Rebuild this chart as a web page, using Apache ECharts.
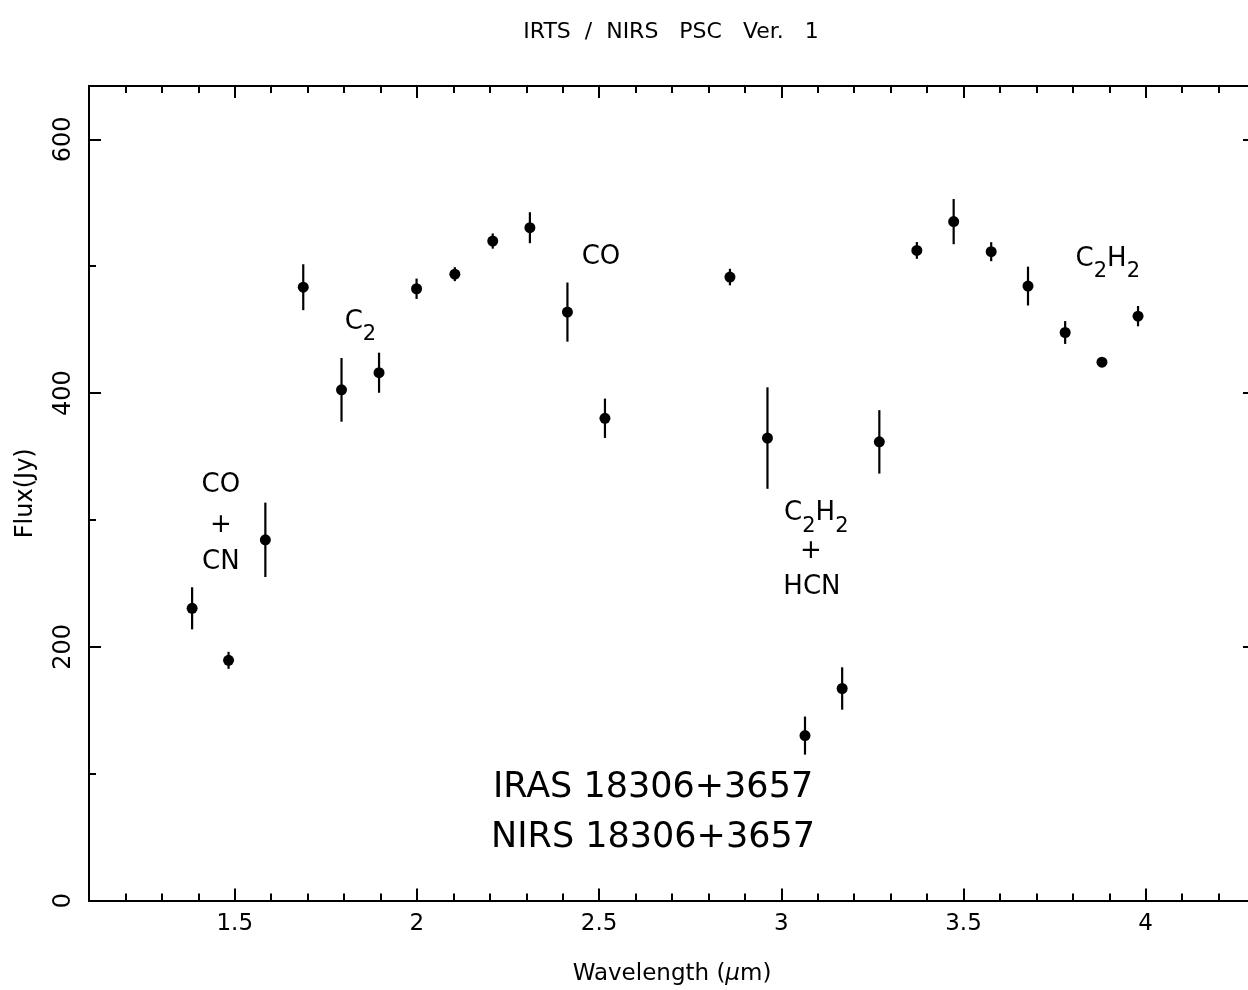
<!DOCTYPE html>
<html>
<head>
<meta charset="utf-8">
<script src="https://cdn.jsdelivr.net/npm/echarts@6/dist/echarts.min.js"></script>
<style>
html,body{margin:0;padding:0;background:#ffffff;}
#chart{width:1248px;height:990px;}
</style>
</head>
<body>
<div id="chart"></div>
<script>
// ---- data ----
const wavelength = [1.383, 1.483, 1.584, 1.688, 1.793, 1.896, 1.999, 2.104, 2.208, 2.310, 2.413, 2.516,
                    2.859, 2.962, 3.065, 3.167, 3.269, 3.372, 3.473, 3.576, 3.677, 3.779, 3.880, 3.979];
const flux       = [230.3, 189.3, 284.3, 483.4, 402.5, 416.0, 482.2, 493.7, 519.8, 530.3, 463.8, 380.1,
                    491.4, 364.5, 130.0, 167.1, 361.5, 512.4, 535.1, 511.4, 484.3, 447.7, 424.3, 460.6];
const fluxError  = [16.6, 6.7, 29.3, 18.1, 25.1, 15.8, 8.0, 5.5, 6.0, 12.2, 23.3, 15.5,
                    6.5, 40.0, 15.0, 16.7, 25.0, 6.6, 17.8, 7.5, 15.3, 9.0, 3.0, 8.0];

const xMajorTicks = [1.5, 2, 2.5, 3, 3.5, 4];
const xMinorTicks = [1.2, 1.3, 1.4, 1.6, 1.7, 1.8, 1.9, 2.1, 2.2, 2.3, 2.4, 2.6, 2.7, 2.8, 2.9,
                     3.1, 3.2, 3.3, 3.4, 3.6, 3.7, 3.8, 3.9, 4.1, 4.2];
const yMajorTicks = [0, 200, 400, 600];
const yMinorTicks = [100, 300, 500];

// annotation texts, positioned in data units (wavelength, flux)
const annotationText = ['CO', '+', 'CN', '{n|C}{s|2}', 'CO', '{n|C}{s|2}{n|H}{s|2}', '+', 'HCN', '{n|C}{s|2}{n|H}{s|2}',
                        'IRAS 18306+3657', 'NIRS 18306+3657'];
const annotationX    = [1.462, 1.462, 1.462, 1.845, 2.505, 3.096, 3.081, 3.084, 3.896, 2.648, 2.648];
const annotationY    = [327, 296, 267, 452, 507, 301, 275, 247, 501.5, 89, 49];
const annotationSize = [26, 26, 26, 26, 26, 26, 26, 26, 26, 35, 35];

const FONT = 'DejaVu Sans';
const X_MIN = 1.1, X_MAX = 4.3, Y_MIN = 0, Y_MAX = 642;

function fmt(v) { return String(+v.toFixed(2)); }

function xAxisDef(grid, pos, ticks, len, withLabel) {
  const ax = {
    type: 'value', gridIndex: grid, position: pos, min: X_MIN, max: X_MAX,
    axisLine: { show: true, onZero: false, lineStyle: { color: '#000', width: 2 } },
    axisTick: { show: true, inside: true, length: len, customValues: ticks, lineStyle: { color: '#000', width: 2 } },
    axisLabel: { show: withLabel, customValues: ticks, formatter: fmt, color: '#000', fontFamily: FONT, fontSize: 23, margin: 12 },
    splitLine: { show: false }, minorTick: { show: false }
  };
  if (withLabel) {
    ax.name = 'Wavelength ({i|μ}m)';
    ax.nameLocation = 'middle';
    ax.nameGap = 62;
    ax.nameTextStyle = { color: '#000', fontFamily: FONT, fontSize: 23,
      rich: { i: { fontStyle: 'italic', fontFamily: FONT, fontSize: 23, color: '#000' } } };
  }
  return ax;
}
function yAxisDef(grid, pos, ticks, len, withLabel) {
  const ax = {
    type: 'value', gridIndex: grid, position: pos, min: Y_MIN, max: Y_MAX,
    axisLine: { show: true, onZero: false, lineStyle: { color: '#000', width: 2 } },
    axisTick: { show: true, inside: true, length: len, customValues: ticks, lineStyle: { color: '#000', width: 2 } },
    axisLabel: { show: withLabel, customValues: ticks, formatter: fmt, rotate: 90, color: '#000', fontFamily: FONT, fontSize: 24, margin: 13 },
    splitLine: { show: false }, minorTick: { show: false }
  };
  if (withLabel) {
    ax.name = 'Flux(Jy)';
    ax.nameLocation = 'middle';
    ax.nameGap = 51;
    ax.nameTextStyle = { color: '#000', fontFamily: FONT, fontSize: 24 };
  }
  return ax;
}

const gridBox = { left: 89, top: 86, right: -7, bottom: 89.5, containLabel: false, outerBoundsMode: 'none' };

const pointData = wavelength.map((w, i) => [w, flux[i]]);
const errorData = wavelength.map((w, i) => [w, flux[i], fluxError[i]]);
const annotationData = annotationText.map((t, i) => [annotationX[i], annotationY[i], i]);

const chart = echarts.init(document.getElementById('chart'), null, { renderer: 'canvas' });
chart.setOption({
  animation: false,
  backgroundColor: '#ffffff',
  title: {
    text: 'IRTS  /  NIRS   PSC   Ver.   1',
    left: 671, top: 21, padding: 0, textAlign: 'center',
    textStyle: { color: '#000', fontFamily: FONT, fontSize: 22, fontWeight: 'normal' }
  },
  grid: [Object.assign({}, gridBox), Object.assign({}, gridBox)],
  xAxis: [
    xAxisDef(0, 'bottom', xMajorTicks, 12, true),
    xAxisDef(0, 'top', xMajorTicks, 12, false),
    xAxisDef(1, 'bottom', xMinorTicks, 7, false),
    xAxisDef(1, 'top', xMinorTicks, 7, false)
  ],
  yAxis: [
    yAxisDef(0, 'left', yMajorTicks, 12, true),
    yAxisDef(0, 'right', yMajorTicks, 12, false),
    yAxisDef(1, 'left', yMinorTicks, 7, false),
    yAxisDef(1, 'right', yMinorTicks, 7, false)
  ],
  series: [
    {
      type: 'custom', xAxisIndex: 0, yAxisIndex: 0, data: errorData, silent: true,
      renderItem: function (params, api) {
        const x = api.value(0), y = api.value(1), e = api.value(2);
        const p1 = api.coord([x, y - e]);
        const p2 = api.coord([x, y + e]);
        return { type: 'line', shape: { x1: p1[0], y1: p1[1], x2: p2[0], y2: p2[1] },
                 style: { stroke: '#000', lineWidth: 2.2 } };
      }
    },
    {
      type: 'scatter', xAxisIndex: 0, yAxisIndex: 0, data: pointData,
      symbol: 'circle', symbolSize: 11, itemStyle: { color: '#000', opacity: 1 }
    },
    {
      type: 'custom', xAxisIndex: 0, yAxisIndex: 0, data: annotationData, silent: true,
      renderItem: function (params, api) {
        const idx = api.value(2);
        const p = api.coord([api.value(0), api.value(1)]);
        const size = annotationSize[idx];
        return {
          type: 'text',
          style: {
            text: annotationText[idx], x: p[0], y: p[1], align: 'center', verticalAlign: 'middle',
            fill: '#000', fontFamily: FONT, fontSize: size,
            rich: {
              n: { fontSize: 26, fontFamily: FONT, lineHeight: 36, verticalAlign: 'top', fill: '#000' },
              s: { fontSize: 21, fontFamily: FONT, lineHeight: 4, verticalAlign: 'bottom', fill: '#000' }
            }
          }
        };
      }
    }
  ]
});
</script>
</body>
</html>
